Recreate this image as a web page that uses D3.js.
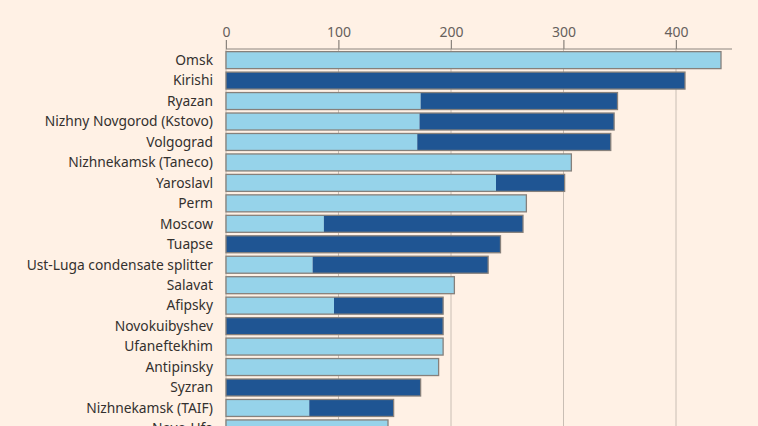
<!DOCTYPE html>
<html>
<head>
<meta charset="utf-8">
<script src="https://cdn.jsdelivr.net/npm/d3@7"></script>
<style>
  html, body { margin: 0; padding: 0; background: #fff1e5; }
  svg { display: block; }
  text { font-family: "Noto Sans", sans-serif; }
</style>
</head>
<body>
<svg id="chart" width="758" height="426"></svg>
<script>
// refinery names, top to bottom
const refineries = [
  'Omsk', 'Kirishi', 'Ryazan', 'Nizhny Novgorod (Kstovo)', 'Volgograd',
  'Nizhnekamsk (Taneco)', 'Yaroslavl', 'Perm', 'Moscow', 'Tuapse',
  'Ust-Luga condensate splitter', 'Salavat', 'Afipsky', 'Novokuibyshev',
  'Ufaneftekhim', 'Antipinsky', 'Syzran', 'Nizhnekamsk (TAIF)', 'Novo-Ufa'
];
// light blue segment
const lightValues = [440, 0, 173, 172, 170, 307, 240, 267, 87, 0, 77, 203, 96, 0, 193, 189, 0, 74, 144];
// dark blue segment
const darkValues = [0, 408, 175, 173, 172, 0, 61, 0, 177, 244, 156, 0, 97, 193, 0, 0, 173, 75, 0];
const tickValues = [0, 100, 200, 300, 400];

const width = 758, height = 426;
const margin = { left: 226, right: 26, top: 49 };
const rowStep = 20.45;

const svg = d3.select('#chart');

const x = d3.scaleLinear()
  .domain([0, 400])
  .range([margin.left, margin.left + 450]);

const y = d3.scaleBand()
  .domain(refineries)
  .range([margin.top + 1, margin.top + 1 + rowStep * refineries.length])
  .paddingInner(0.17)
  .paddingOuter(0.08);

// gridlines
svg.append('g')
  .selectAll('line')
  .data(tickValues)
  .join('line')
  .attr('x1', d => x(d)).attr('x2', d => x(d))
  .attr('y1', margin.top - 9).attr('y2', height)
  .attr('stroke', '#c9beb4')
  .attr('stroke-width', 1);

// axis
const axis = svg.append('g')
  .attr('transform', `translate(0,${margin.top})`)
  .call(d3.axisTop(x).tickValues(tickValues).tickSize(9).tickPadding(3));
axis.select('.domain').remove();
axis.selectAll('.tick line').attr('stroke', '#8c857f');
axis.selectAll('.tick text')
  .attr('fill', '#66605c')
  .style('font-size', '14px');
svg.append('line')
  .attr('x1', margin.left).attr('x2', width - margin.right)
  .attr('y1', margin.top).attr('y2', margin.top)
  .attr('stroke', '#8c857f');

const rows = refineries.map((name, i) => ({ name, light: lightValues[i], dark: darkValues[i] }));

const g = svg.append('g');
// light segments
g.selectAll('rect.light')
  .data(rows.filter(d => d.light > 0))
  .join('rect')
  .attr('class', 'light')
  .attr('x', x(0))
  .attr('y', d => y(d.name))
  .attr('width', d => x(d.light) - x(0))
  .attr('height', y.bandwidth())
  .attr('fill', '#96d3ea');
// dark segments
g.selectAll('rect.dark')
  .data(rows.filter(d => d.dark > 0))
  .join('rect')
  .attr('class', 'dark')
  .attr('x', d => x(d.light))
  .attr('y', d => y(d.name))
  .attr('width', d => x(d.light + d.dark) - x(d.light))
  .attr('height', y.bandwidth())
  .attr('fill', '#1f5593');
// outline of whole bar
g.selectAll('rect.outline')
  .data(rows)
  .join('rect')
  .attr('class', 'outline')
  .attr('x', x(0))
  .attr('y', d => y(d.name))
  .attr('width', d => x(d.light + d.dark) - x(0))
  .attr('height', y.bandwidth())
  .attr('fill', 'none')
  .attr('stroke', '#86807b')
  .attr('stroke-width', 1.3);

// category labels
svg.append('g')
  .selectAll('text')
  .data(refineries)
  .join('text')
  .attr('x', margin.left - 13)
  .attr('y', d => y(d) + y.bandwidth() / 2)
  .attr('dy', '0.35em')
  .attr('text-anchor', 'end')
  .attr('fill', '#33302e')
  .style('font-size', '13.8px')
  .text(d => d);
</script>
</body>
</html>
